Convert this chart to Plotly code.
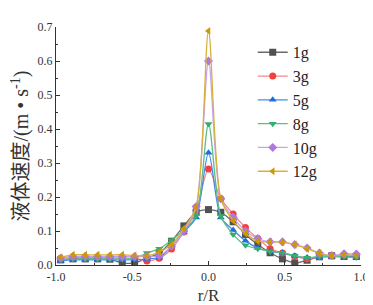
import plotly.graph_objects as go

r_over_R = [round(k * 0.0808, 4) for k in range(-12, 13)]

v_1g = [0.015, 0.018, 0.018, 0.018, 0.017, 0.006, 0.006, 0.020, 0.035, 0.070, 0.115, 0.155, 0.163,
        0.155, 0.127, 0.090, 0.060, 0.036, 0.018, 0.006, 0.014, 0.024, 0.027, 0.025, 0.025]
v_3g = [0.020, 0.022, 0.022, 0.022, 0.022, 0.020, 0.020, 0.012, 0.020, 0.047, 0.097, 0.160, 0.282,
        0.195, 0.150, 0.110, 0.078, 0.048, 0.035, 0.025, 0.018, 0.025, 0.028, 0.028, 0.028]
v_5g = [0.012, 0.015, 0.015, 0.015, 0.015, 0.015, 0.015, 0.018, 0.022, 0.055, 0.097, 0.140, 0.330,
        0.140, 0.103, 0.071, 0.050, 0.040, 0.036, 0.027, 0.022, 0.023, 0.025, 0.025, 0.022]
v_8g = [0.015, 0.018, 0.018, 0.018, 0.018, 0.018, 0.020, 0.035, 0.048, 0.073, 0.103, 0.145, 0.415,
        0.144, 0.090, 0.058, 0.048, 0.040, 0.036, 0.027, 0.021, 0.025, 0.025, 0.024, 0.022]
v_10g = [0.020, 0.025, 0.025, 0.025, 0.025, 0.025, 0.025, 0.025, 0.027, 0.055, 0.100, 0.172, 0.600,
         0.195, 0.140, 0.100, 0.078, 0.068, 0.068, 0.060, 0.050, 0.035, 0.028, 0.033, 0.032]
v_12g = [0.023, 0.030, 0.030, 0.030, 0.030, 0.030, 0.028, 0.027, 0.038, 0.060, 0.107, 0.170, 0.688,
         0.195, 0.130, 0.093, 0.070, 0.068, 0.067, 0.060, 0.048, 0.035, 0.027, 0.030, 0.028]

series_names = ["1g", "3g", "5g", "8g", "10g", "12g"]
series_vals = [v_1g, v_3g, v_5g, v_8g, v_10g, v_12g]
marker_colors = ["#515151", "#F14040", "#1A6FDF", "#37AD6B", "#B177DE", "#CC9900"]
line_colors = ["#6a6a6a", "#f48a8a", "#4a8ae6", "#5cbd86", "#c9a3ea", "#d9b040"]
symbols = ["square", "circle", "triangle-up", "triangle-down", "diamond", "triangle-left"]

fig = go.Figure()
for name, vals, mc, lc, sym in zip(series_names, series_vals, marker_colors, line_colors, symbols):
    fig.add_trace(go.Scatter(
        x=r_over_R, y=vals, name=name, mode="lines+markers",
        line=dict(color=lc, width=1.3, shape="spline", smoothing=0.8),
        marker=dict(symbol=sym, size=7, color=mc, line=dict(width=0)),
    ))

font_serif = '"Liberation Serif", "DejaVu Serif", "Noto Sans CJK SC", serif'
fig.update_layout(
    width=373, height=305,
    margin=dict(l=42, r=12, t=12, b=40),
    paper_bgcolor="white", plot_bgcolor="white",
    font=dict(family=font_serif, color="#333333"),
    showlegend=True,
    legend=dict(x=0.645, y=0.965, xanchor="left", yanchor="top",
                font=dict(size=16, family=font_serif, color="#222222"),
                bgcolor="rgba(0,0,0,0)", tracegroupgap=0, itemwidth=30),
    xaxis=dict(range=[-1.0, 1.0], tickvals=[-1.0, -0.5, 0.0, 0.5, 1.0],
               ticktext=["-1.0", "-0.5", "0.0", "0.5", "1.0"],
               showgrid=False, zeroline=False, showline=True, linecolor="#333333", linewidth=1.2,
               ticks="inside", ticklen=4, tickcolor="#333333",
               minor=dict(ticks="inside", ticklen=2, dtick=0.25, tickcolor="#333333"),
               tickfont=dict(size=12, family=font_serif),
               title=dict(text="r/R", font=dict(size=17, family=font_serif), standoff=6)),
    yaxis=dict(range=[0, 0.7], dtick=0.1, tickformat=".1f",
               showgrid=False, zeroline=False, showline=True, linecolor="#333333", linewidth=1.2,
               ticks="inside", ticklen=4, tickcolor="#333333",
               minor=dict(ticks="inside", ticklen=2, dtick=0.05, tickcolor="#333333"),
               tickfont=dict(size=12, family=font_serif),
               title=dict(text="液体速度/(m • s<sup>-1</sup>)", font=dict(size=20, family=font_serif), standoff=3)),
)

fig.write_html("out.html")
